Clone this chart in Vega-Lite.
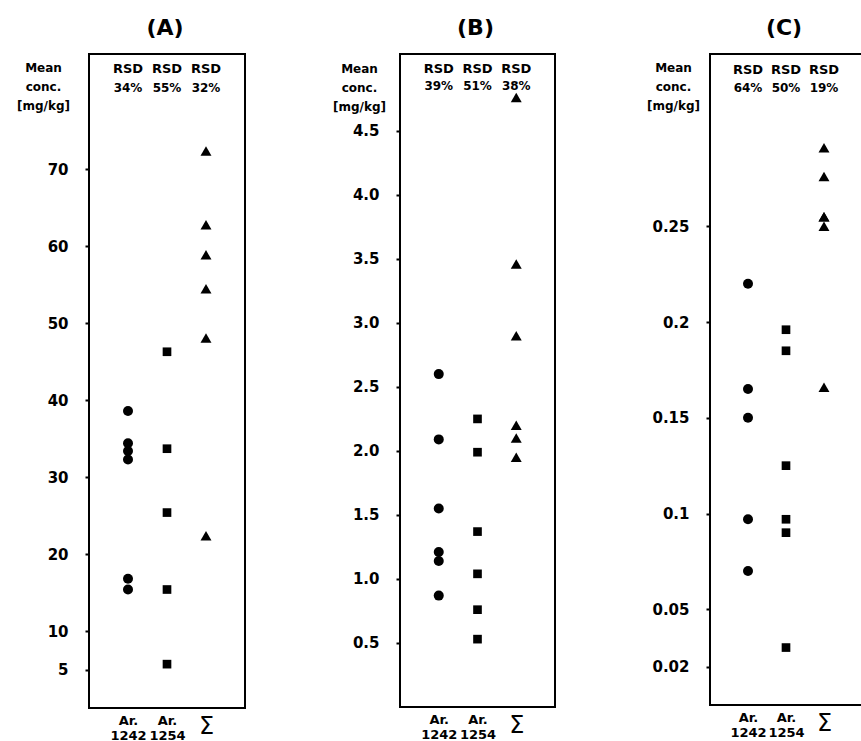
{
  "$schema": "https://vega.github.io/schema/vega-lite/v6.json",
  "background": "white",
  "padding": {"left": 15, "top": 16, "right": 0, "bottom": 0},
  "spacing": 155,
  "bounds": "flush",
  "datasets": {
    "points": [
      {"panel": "A", "sample": "Ar. 1242", "conc": 38.6},
      {"panel": "A", "sample": "Ar. 1242", "conc": 34.4},
      {"panel": "A", "sample": "Ar. 1242", "conc": 33.4},
      {"panel": "A", "sample": "Ar. 1242", "conc": 32.3},
      {"panel": "A", "sample": "Ar. 1242", "conc": 16.8},
      {"panel": "A", "sample": "Ar. 1242", "conc": 15.4},
      {"panel": "A", "sample": "Ar. 1254", "conc": 46.3},
      {"panel": "A", "sample": "Ar. 1254", "conc": 33.7},
      {"panel": "A", "sample": "Ar. 1254", "conc": 25.4},
      {"panel": "A", "sample": "Ar. 1254", "conc": 15.4},
      {"panel": "A", "sample": "Ar. 1254", "conc": 5.7},
      {"panel": "A", "sample": "Σ", "conc": 72.4},
      {"panel": "A", "sample": "Σ", "conc": 62.8},
      {"panel": "A", "sample": "Σ", "conc": 58.9},
      {"panel": "A", "sample": "Σ", "conc": 54.5},
      {"panel": "A", "sample": "Σ", "conc": 48.1},
      {"panel": "A", "sample": "Σ", "conc": 22.4},
      {"panel": "B", "sample": "Ar. 1242", "conc": 2.6},
      {"panel": "B", "sample": "Ar. 1242", "conc": 2.09},
      {"panel": "B", "sample": "Ar. 1242", "conc": 1.55},
      {"panel": "B", "sample": "Ar. 1242", "conc": 1.21},
      {"panel": "B", "sample": "Ar. 1242", "conc": 1.14},
      {"panel": "B", "sample": "Ar. 1242", "conc": 0.87},
      {"panel": "B", "sample": "Ar. 1254", "conc": 2.25},
      {"panel": "B", "sample": "Ar. 1254", "conc": 1.99},
      {"panel": "B", "sample": "Ar. 1254", "conc": 1.37},
      {"panel": "B", "sample": "Ar. 1254", "conc": 1.04},
      {"panel": "B", "sample": "Ar. 1254", "conc": 0.76},
      {"panel": "B", "sample": "Ar. 1254", "conc": 0.53},
      {"panel": "B", "sample": "Σ", "conc": 4.76},
      {"panel": "B", "sample": "Σ", "conc": 3.46},
      {"panel": "B", "sample": "Σ", "conc": 2.9},
      {"panel": "B", "sample": "Σ", "conc": 2.2},
      {"panel": "B", "sample": "Σ", "conc": 2.1},
      {"panel": "B", "sample": "Σ", "conc": 1.95},
      {"panel": "C", "sample": "Ar. 1242", "conc": 0.22},
      {"panel": "C", "sample": "Ar. 1242", "conc": 0.165},
      {"panel": "C", "sample": "Ar. 1242", "conc": 0.15},
      {"panel": "C", "sample": "Ar. 1242", "conc": 0.097},
      {"panel": "C", "sample": "Ar. 1242", "conc": 0.07},
      {"panel": "C", "sample": "Ar. 1254", "conc": 0.196},
      {"panel": "C", "sample": "Ar. 1254", "conc": 0.185},
      {"panel": "C", "sample": "Ar. 1254", "conc": 0.125},
      {"panel": "C", "sample": "Ar. 1254", "conc": 0.097},
      {"panel": "C", "sample": "Ar. 1254", "conc": 0.09},
      {"panel": "C", "sample": "Ar. 1254", "conc": 0.03},
      {"panel": "C", "sample": "Σ", "conc": 0.291},
      {"panel": "C", "sample": "Σ", "conc": 0.276},
      {"panel": "C", "sample": "Σ", "conc": 0.255},
      {"panel": "C", "sample": "Σ", "conc": 0.255},
      {"panel": "C", "sample": "Σ", "conc": 0.25},
      {"panel": "C", "sample": "Σ", "conc": 0.166}
    ],
    "rsd": [
      {"panel": "A", "sample": "Ar. 1242", "rsd": "34%"},
      {"panel": "A", "sample": "Ar. 1254", "rsd": "55%"},
      {"panel": "A", "sample": "Σ", "rsd": "32%"},
      {"panel": "B", "sample": "Ar. 1242", "rsd": "39%"},
      {"panel": "B", "sample": "Ar. 1254", "rsd": "51%"},
      {"panel": "B", "sample": "Σ", "rsd": "38%"},
      {"panel": "C", "sample": "Ar. 1242", "rsd": "64%"},
      {"panel": "C", "sample": "Ar. 1254", "rsd": "50%"},
      {"panel": "C", "sample": "Σ", "rsd": "19%"}
    ]
  },
  "config": {
    "font": "DejaVu Sans",
    "view": {"stroke": "black", "strokeWidth": 2},
    "title": {"fontSize": 22, "fontWeight": "bold", "color": "black", "frame": "group", "anchor": "middle", "baseline": "bottom", "offset": 14, "dx": -2},
    "axisY": {"domain": false, "grid": false, "ticks": true, "tickSize": 4, "tickWidth": 2, "tickColor": "black", "labelFontSize": 15, "labelFontWeight": "bold", "labelColor": "black", "labelPadding": 17, "labelOverlap": false, "titleAngle": 0, "titleAlign": "center", "titleBaseline": "top", "titleFontSize": 12, "titleFontWeight": "bold", "titleColor": "black", "titleLineHeight": 19},
    "axisX": {"domain": false, "grid": false, "ticks": false, "labelAngle": 0, "labelColor": "black", "labelPadding": 6, "labelLineHeight": 15, "labelBaseline": "top", "labelOverlap": false}
  },
  "hconcat": [
    {
      "title": "(A)",
      "width": 156,
      "height": 654,
      "encoding": {
        "x": {"field": "sample", "type": "nominal", "scale": {"type": "point", "padding": 1, "domain": ["Ar. 1242", "Ar. 1254", "Σ"]}, "axis": {"title": null, "labelExpr": "datum.value == 'Σ' ? 'Σ' : split(datum.value, ' ')", "labelFontSize": {"condition": {"test": "datum.value == 'Σ'", "value": 24}, "value": 13}, "labelFontWeight": {"condition": {"test": "datum.value == 'Σ'", "value": "normal"}, "value": "bold"}}}
      },
      "layer": [
        {
          "data": {"name": "points"},
          "transform": [{"filter": "datum.panel == 'A'"}],
          "mark": {"type": "point", "filled": true, "color": "black", "opacity": 1},
          "encoding": {
            "y": {"field": "conc", "type": "quantitative", "scale": {"domain": [0, 85], "nice": false}, "axis": {"title": ["Mean", "conc.", "[mg/kg]"], "values": [5, 10, 20, 30, 40, 50, 60, 70], "format": "d", "titleX": -46, "titleY": 8}},
            "shape": {"field": "sample", "type": "nominal", "scale": {"domain": ["Ar. 1242", "Ar. 1254", "Σ"], "range": ["circle", "square", "triangle-up"]}, "legend": null},
            "size": {"field": "sample", "type": "ordinal", "scale": {"type": "ordinal", "domain": ["Ar. 1242", "Ar. 1254", "Σ"], "range": [100, 75, 120]}, "legend": null}
          }
        },
        {
          "data": {"name": "rsd"},
          "transform": [{"filter": "datum.panel == 'A'"}],
          "mark": {"type": "text", "text": "RSD", "baseline": "middle", "dy": 14.5, "fontSize": 13, "fontWeight": "bold", "color": "black"},
          "encoding": {
            "y": {"datum": 85, "type": "quantitative"}
          }
        },
        {
          "data": {"name": "rsd"},
          "transform": [{"filter": "datum.panel == 'A'"}],
          "mark": {"type": "text", "baseline": "middle", "dy": 34, "fontSize": 12, "fontWeight": "bold", "color": "black"},
          "encoding": {
            "y": {"datum": 85, "type": "quantitative"},
            "text": {"field": "rsd"}
          }
        }
      ]
    },
    {
      "title": "(B)",
      "width": 155,
      "height": 653,
      "encoding": {
        "x": {"field": "sample", "type": "nominal", "scale": {"type": "point", "padding": 1, "domain": ["Ar. 1242", "Ar. 1254", "Σ"]}, "axis": {"title": null, "labelExpr": "datum.value == 'Σ' ? 'Σ' : split(datum.value, ' ')", "labelFontSize": {"condition": {"test": "datum.value == 'Σ'", "value": 24}, "value": 13}, "labelFontWeight": {"condition": {"test": "datum.value == 'Σ'", "value": "normal"}, "value": "bold"}}}
      },
      "layer": [
        {
          "data": {"name": "points"},
          "transform": [{"filter": "datum.panel == 'B'"}],
          "mark": {"type": "point", "filled": true, "color": "black", "opacity": 1},
          "encoding": {
            "y": {"field": "conc", "type": "quantitative", "scale": {"domain": [0, 5.1], "nice": false}, "axis": {"title": ["Mean", "conc.", "[mg/kg]"], "values": [0.5, 1, 1.5, 2, 2.5, 3, 3.5, 4, 4.5], "format": ".1f", "titleX": -41, "titleY": 9}},
            "shape": {"field": "sample", "type": "nominal", "scale": {"domain": ["Ar. 1242", "Ar. 1254", "Σ"], "range": ["circle", "square", "triangle-up"]}, "legend": null},
            "size": {"field": "sample", "type": "ordinal", "scale": {"type": "ordinal", "domain": ["Ar. 1242", "Ar. 1254", "Σ"], "range": [100, 48, 135]}, "legend": null}
          }
        },
        {
          "data": {"name": "rsd"},
          "transform": [{"filter": "datum.panel == 'B'"}],
          "mark": {"type": "text", "text": "RSD", "baseline": "middle", "dy": 15, "fontSize": 13, "fontWeight": "bold", "color": "black"},
          "encoding": {
            "y": {"datum": 5.1, "type": "quantitative"}
          }
        },
        {
          "data": {"name": "rsd"},
          "transform": [{"filter": "datum.panel == 'B'"}],
          "mark": {"type": "text", "baseline": "middle", "dy": 32, "fontSize": 12, "fontWeight": "bold", "color": "black"},
          "encoding": {
            "y": {"datum": 5.1, "type": "quantitative"},
            "text": {"field": "rsd"}
          }
        }
      ]
    },
    {
      "title": "(C)",
      "width": 152,
      "height": 651,
      "encoding": {
        "x": {"field": "sample", "type": "nominal", "scale": {"type": "point", "padding": 1, "domain": ["Ar. 1242", "Ar. 1254", "Σ"]}, "axis": {"title": null, "labelExpr": "datum.value == 'Σ' ? 'Σ' : split(datum.value, ' ')", "labelFontSize": {"condition": {"test": "datum.value == 'Σ'", "value": 24}, "value": 13}, "labelFontWeight": {"condition": {"test": "datum.value == 'Σ'", "value": "normal"}, "value": "bold"}}}
      },
      "layer": [
        {
          "data": {"name": "points"},
          "transform": [{"filter": "datum.panel == 'C'"}],
          "mark": {"type": "point", "filled": true, "color": "black", "opacity": 1},
          "encoding": {
            "y": {"field": "conc", "type": "quantitative", "scale": {"domain": [0, 0.34], "nice": false}, "axis": {"title": ["Mean", "conc.", "[mg/kg]"], "values": [0.02, 0.05, 0.1, 0.15, 0.2, 0.25], "format": "~g", "titleX": -37, "titleY": 8}},
            "shape": {"field": "sample", "type": "nominal", "scale": {"domain": ["Ar. 1242", "Ar. 1254", "Σ"], "range": ["circle", "square", "triangle-up"]}, "legend": null},
            "size": {"field": "sample", "type": "ordinal", "scale": {"type": "ordinal", "domain": ["Ar. 1242", "Ar. 1254", "Σ"], "range": [100, 64, 130]}, "legend": null}
          }
        },
        {
          "data": {"name": "rsd"},
          "transform": [{"filter": "datum.panel == 'C'"}],
          "mark": {"type": "text", "text": "RSD", "baseline": "middle", "dy": 16, "fontSize": 13, "fontWeight": "bold", "color": "black"},
          "encoding": {
            "y": {"datum": 0.34, "type": "quantitative"}
          }
        },
        {
          "data": {"name": "rsd"},
          "transform": [{"filter": "datum.panel == 'C'"}],
          "mark": {"type": "text", "baseline": "middle", "dy": 34, "fontSize": 12, "fontWeight": "bold", "color": "black"},
          "encoding": {
            "y": {"datum": 0.34, "type": "quantitative"},
            "text": {"field": "rsd"}
          }
        }
      ]
    }
  ]
}
